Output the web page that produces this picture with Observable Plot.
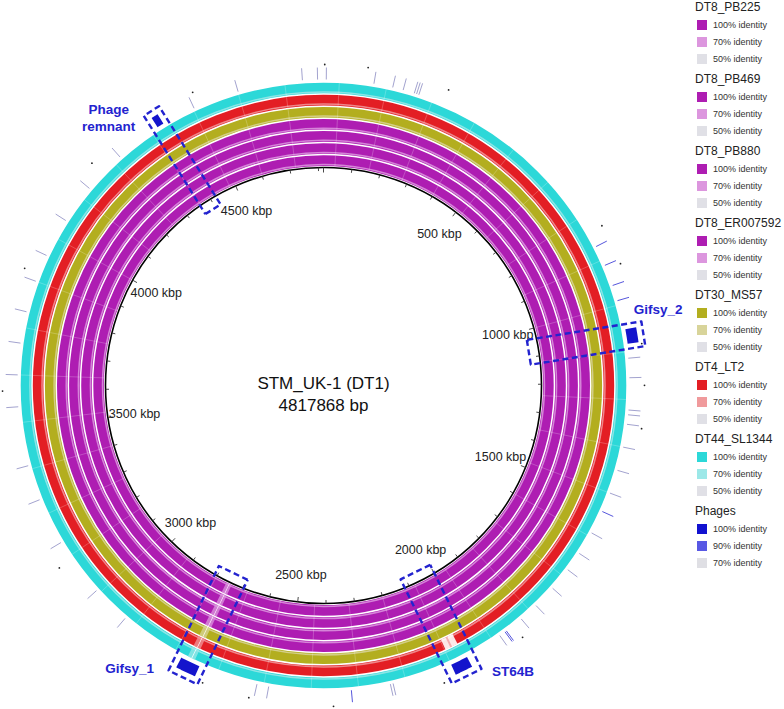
<!DOCTYPE html>
<html><head><meta charset="utf-8">
<script src="https://cdn.jsdelivr.net/npm/d3@7"></script>
<script src="https://cdn.jsdelivr.net/npm/@observablehq/plot@0.6"></script>
<style>
body{margin:0;background:#fff;font-family:"Liberation Sans",Arial,sans-serif;}
#wrap{position:relative;width:784px;height:709px;overflow:hidden;}
#chart{position:absolute;left:0;top:0;}
.lg-title{position:absolute;left:695px;font-size:12px;line-height:14px;color:#222;white-space:nowrap;}
.lg-sw{position:absolute;left:697px;width:10px;height:10px;}
.lg-txt{position:absolute;left:713px;font-size:9px;line-height:11px;color:#333;white-space:nowrap;}
</style></head><body>
<div id="wrap"><div id="chart"></div><div id="legend"></div></div>
<script>
// ---------------- data ----------------
const genomeLength = 4817868;
const genomeName = "STM_UK-1 (DT1)";
const genomeSize = "4817868 bp";
const ringNames = ["DT8_PB225","DT8_PB469","DT8_PB880","DT8_ER007592","DT30_MS57","DT4_LT2","DT44_SL1344"];
const ringColors = ["#AE1DB2","#AE1DB2","#AE1DB2","#AE1DB2","#B3AE1F","#E31E24","#2CD8D8"];
const ringLight  = ["#DC96DE","#DC96DE","#DC96DE","#DC96DE","#D8D49A","#F09A9C","#9CE8E8"];
const tickLabelsKbp = [500,1000,1500,2000,2500,3000,3500,4000,4500];
// low identity / missing regions (kbp)
const lowRing     = [0,1,2,3,4,5,6, 0,1,2,3,4,5,6, 5, 5];
const lowStart    = [2740,2740,2741,2742,2743,2744,2745, 2748,2748,2749,2750,2751,2752,2753, 2042, 2058];
const lowEnd      = [2760,2760,2761,2762,2763,2764,2765, 2750,2750,2751,2752,2753,2754,2755, 2077, 2063];
const lowIdentity = [70,70,70,70,70,70,70, 0,0,0,0,0,0,0, 0, 70];
// phage regions (kbp)
const phageNames = ["Phage remnant","Gifsy_2","ST64B","Gifsy_1"];
const phageStart = [4380, 1063, 2036, 2728];
const phageEnd   = [4397, 1100, 2080, 2778];
// phage hits outside the rings (kbp, identity)
const hitKbp = [7,127,175,202,231,237,243,843,895,949,989,1136,1185,1266,1278,1302,1360,1420,1480,1530,1590,1650,1700,1760,1820,1870,1918,1922,1938,2233,2240,2339,2547,2577,2950,3050,3200,3320,3410,3560,3640,3720,3800,3880,3950,4050,4150,4260,4483,4601,4765,4803];
const hitIdentity = [70,70,70,70,70,70,70,90,90,90,90,70,70,70,70,70,70,70,70,90,70,70,70,70,70,70,90,90,70,70,70,90,70,70,70,70,70,70,70,70,70,70,70,70,70,70,70,70,70,70,70,70];
// small black marks
const dotKbp = [3,107,307,805,906,1104,1204,1308,1896,2113,2385,2589,2705,3150,3600,3900,4200,4496];

// ---------------- layout ----------------
const W = 690, H = 709, cx = 323, cy = 385;
const rAxis = 218, rLabel = 191;
const ringInner = 219.6, ringPitch = 12.1, ringWidth = 10.6;
const hitR1 = 306, hitR2 = 318, dotR = 321;
const phageFillR = 312.5, phageFillW = 11;
const boxR1 = 208, boxR2 = 324, boxHalf = [9, 12.5, 16.5, 16];
const labelR = 343, labelOffsetDeg = [-6.7, -3.5, -7.3, 8.7];
const blue = "#2323CF";

const ang = kbp => kbp * 1000 / genomeLength * 2 * Math.PI;
const px = (kbp, r) => cx + r * Math.sin(ang(kbp));
const py = (kbp, r) => cy - r * Math.cos(ang(kbp));
const ringMid = i => ringInner + ringPitch * i + ringWidth / 2;

function arc(start, end, r, id) {
  const n = Math.max(2, Math.ceil((end - start) / 1.5)) + 1;
  return d3.range(n).map(k => {
    const kb = start + (end - start) * k / (n - 1);
    return {x: px(kb, r), y: py(kb, r), id};
  });
}

const marks = [];
// rings
ringNames.forEach((name, i) => {
  marks.push(Plot.dot([0], {x: () => cx, y: () => cy, r: ringMid(i), fill: "none", stroke: ringColors[i], strokeWidth: ringWidth}));
  marks.push(Plot.dot([0], {x: () => cx, y: () => cy, r: ringInner + ringPitch * i + 1.4, fill: "none", stroke: ringLight[i], strokeWidth: 1.5, strokeOpacity: 0.85}));
});
// faint segment boundaries across the rings
const segKbp = d3.range(40, 4817, 120);
ringNames.forEach((name, i) => {
  marks.push(Plot.link(segKbp, {
    x1: d => px(d, ringInner + ringPitch * i), y1: d => py(d, ringInner + ringPitch * i),
    x2: d => px(d, ringInner + ringPitch * i + ringWidth), y2: d => py(d, ringInner + ringPitch * i + ringWidth),
    stroke: "white", strokeOpacity: 0.22, strokeWidth: 1
  }));
});
// low identity regions
lowRing.forEach((ri, k) => {
  const col = lowIdentity[k] === 0 ? "white" : ringLight[ri];
  marks.push(Plot.line(arc(lowStart[k], lowEnd[k], ringMid(ri), k), {
    x: "x", y: "y", stroke: col, strokeWidth: ringWidth + 0.6, strokeLinecap: "butt", strokeLinejoin: "miter",
    strokeOpacity: lowIdentity[k] === 0 ? 0.9 : 0.75
  }));
});
// axis circle + ticks
marks.push(Plot.dot([0], {x: () => cx, y: () => cy, r: rAxis, fill: "none", stroke: "black", strokeWidth: 1.6}));
const minor = d3.range(0, 4818, 100);
marks.push(Plot.link(minor, {
  x1: d => px(d, rAxis), y1: d => py(d, rAxis),
  x2: d => px(d, d % 500 === 0 ? rAxis - 5 : rAxis - 3.5), y2: d => py(d, d % 500 === 0 ? rAxis - 5 : rAxis - 3.5),
  stroke: "#333", strokeWidth: 0.9
}));
marks.push(Plot.text(tickLabelsKbp, {
  x: d => px(d, rLabel), y: d => py(d, rLabel), text: d => `${d} kbp`,
  fontSize: 12.5, fill: "#222", textAnchor: "middle", lineAnchor: "middle"
}));
// center title
marks.push(Plot.text([genomeName, genomeSize], {
  x: () => cx, y: (d, i) => cy - 1.5 + i * 22, text: d => d, fontSize: 17, fill: "#111", lineAnchor: "middle"
}));
// phage hits and dots
marks.push(Plot.link(hitKbp.map((k, i) => ({k, id: hitIdentity[i]})), {
  x1: d => px(d.k, hitR1), y1: d => py(d.k, hitR1), x2: d => px(d.k, hitR2), y2: d => py(d.k, hitR2),
  stroke: d => d.id >= 90 ? "#5656DC" : "#A3A3CF", strokeWidth: 1
}));
marks.push(Plot.dot(dotKbp, {x: d => px(d, dotR), y: d => py(d, dotR), r: 0.9, fill: "#222", stroke: "none"}));
// phage blocks, boxes, labels
phageNames.forEach((name, i) => {
  marks.push(Plot.line(arc(phageStart[i], phageEnd[i], phageFillR, i), {
    x: "x", y: "y", stroke: "#1414CC", strokeWidth: phageFillW, strokeLinecap: "butt"
  }));
  const mid = (phageStart[i] + phageEnd[i]) / 2, a = ang(mid);
  const ux = Math.sin(a), uy = -Math.cos(a), tx = Math.cos(a), ty = Math.sin(a);
  const h = boxHalf[i];
  const corners = [[boxR1, -h], [boxR1, h], [boxR2, h], [boxR2, -h], [boxR1, -h]].map(([r, s]) => ({
    x: cx + r * ux + s * tx, y: cy + r * uy + s * ty
  }));
  marks.push(Plot.line(corners, {x: "x", y: "y", stroke: blue, strokeWidth: 2.4, strokeDasharray: "6,3.5", strokeLinecap: "butt"}));
  const la = mid + labelOffsetDeg[i] / 360 * genomeLength / 1000;
  const lines = name === "Phage remnant" ? ["Phage", "remnant"] : [name];
  marks.push(Plot.text(lines, {
    x: () => px(la, labelR), y: (d, j) => py(la, labelR) + (j - (lines.length - 1) / 2) * 17,
    text: d => d, fontSize: 13.5, fontWeight: "bold", fill: blue, textAnchor: "middle", lineAnchor: "middle"
  }));
});

const chart = Plot.plot({
  width: W, height: H, margin: 0,
  x: {domain: [0, W], range: [0, W], axis: null},
  y: {domain: [0, H], range: [0, H], axis: null},
  style: {fontFamily: "'Liberation Sans', Arial, sans-serif", background: "white", overflow: "visible"},
  marks
});
document.getElementById("chart").append(chart);

// ---------------- legend ----------------
const legendGroups = [...ringNames, "Phages"];
const legendColors = [
  ...ringNames.map((n, i) => [ringColors[i], ringLight[i], "#E0E0E6"]),
  ["#1212D0", "#5858E4", "#DFDFE4"]
];
const legendLevels = [...ringNames.map(() => ["100% identity", "70% identity", "50% identity"]), ["100% identity", "90% identity", "70% identity"]];
const lg = document.getElementById("legend");
legendGroups.forEach((g, gi) => {
  const y0 = 7 + gi * 72;
  const t = document.createElement("div");
  t.className = "lg-title"; t.textContent = g; t.style.top = (y0 - 7) + "px";
  lg.append(t);
  legendLevels[gi].forEach((lv, k) => {
    const yy = y0 + 18 + k * 17;
    const s = document.createElement("div");
    s.className = "lg-sw"; s.style.top = (yy - 5) + "px"; s.style.background = legendColors[gi][k];
    lg.append(s);
    const tx = document.createElement("div");
    tx.className = "lg-txt"; tx.textContent = lv; tx.style.top = (yy - 5.5) + "px";
    lg.append(tx);
  });
});
</script>
</body></html>
